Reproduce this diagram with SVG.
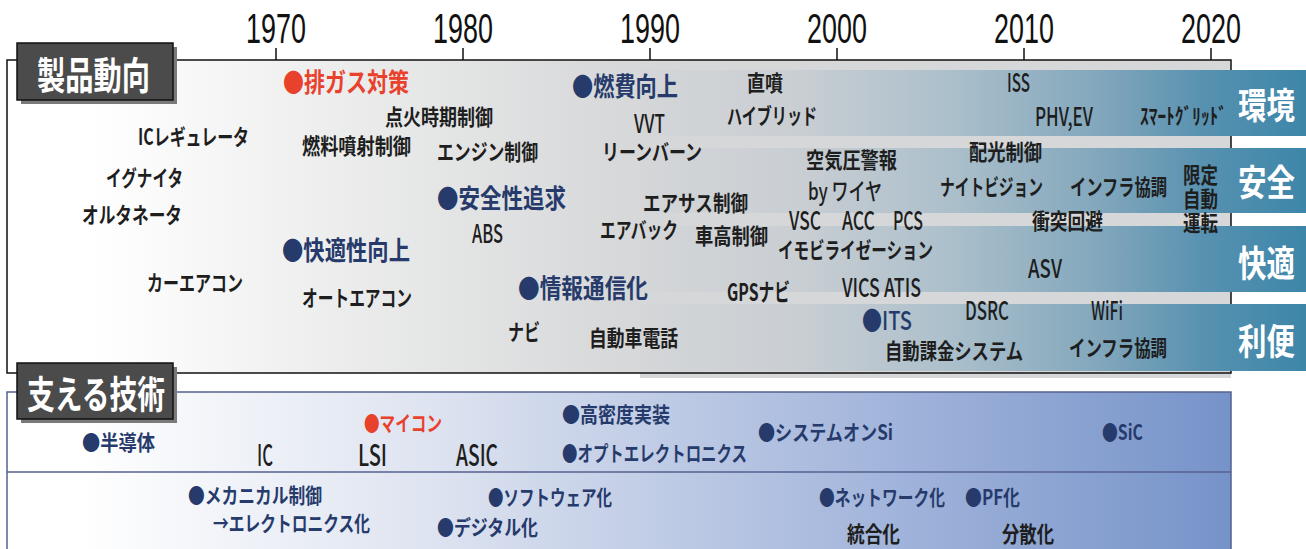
<svg xmlns="http://www.w3.org/2000/svg" width="1306" height="549" viewBox="0 0 1306 549">
<style>
text{font-family:"Noto Sans CJK JP","Liberation Sans",sans-serif;}
.t{font-size:22px;font-weight:700;fill:#1e1e1e;}
.l{font-size:26px;font-weight:500;fill:#1e1e1e;}
.h{font-size:26px;font-weight:700;fill:#263b6b;}
.r{font-size:26px;font-weight:700;fill:#e8412c;}
.n{font-size:21px;font-weight:700;fill:#263b6b;}
.nr{font-size:21px;font-weight:700;fill:#e8412c;}
.b{font-size:36px;font-weight:700;fill:#ffffff;}
.hd{font-size:38px;font-weight:700;fill:#ffffff;}
.yr{font-family:"Liberation Sans",sans-serif;font-size:43px;fill:#111;text-anchor:middle;}
.tick{stroke:#111;stroke-width:1.5;}
</style>
<defs>
<linearGradient id="gTop" x1="7" y1="0" x2="1231" y2="0" gradientUnits="userSpaceOnUse">
<stop offset="0" stop-color="#ffffff"/>
<stop offset="0.07" stop-color="#ffffff"/>
<stop offset="0.5" stop-color="#d7d8d9"/>
<stop offset="1" stop-color="#d4d6d8"/>
</linearGradient>
<linearGradient id="gBand" x1="640" y1="0" x2="1306" y2="0" gradientUnits="userSpaceOnUse">
<stop offset="0" stop-color="#d4d6d8"/>
<stop offset="0.24" stop-color="#c9ced3"/>
<stop offset="0.47" stop-color="#abbfcb"/>
<stop offset="0.69" stop-color="#82a7bc"/>
<stop offset="0.85" stop-color="#5791b0"/>
<stop offset="1" stop-color="#3d86a9"/>
</linearGradient>
<linearGradient id="gBot" x1="7" y1="0" x2="1231" y2="0" gradientUnits="userSpaceOnUse">
<stop offset="0" stop-color="#ffffff"/>
<stop offset="0.06" stop-color="#ffffff"/>
<stop offset="0.35" stop-color="#dde3f0"/>
<stop offset="0.7" stop-color="#a5b7dc"/>
<stop offset="1" stop-color="#7693c9"/>
</linearGradient>
</defs>

<g id="timeline">
<text class="yr" transform="translate(276,43) scale(0.63,1)" textLength="95" lengthAdjust="spacingAndGlyphs">1970</text>
<text class="yr" transform="translate(463,43) scale(0.63,1)" textLength="95" lengthAdjust="spacingAndGlyphs">1980</text>
<text class="yr" transform="translate(650,43) scale(0.63,1)" textLength="95" lengthAdjust="spacingAndGlyphs">1990</text>
<text class="yr" transform="translate(837,43) scale(0.63,1)" textLength="95" lengthAdjust="spacingAndGlyphs">2000</text>
<text class="yr" transform="translate(1024,43) scale(0.63,1)" textLength="95" lengthAdjust="spacingAndGlyphs">2010</text>
<text class="yr" transform="translate(1211,43) scale(0.63,1)" textLength="95" lengthAdjust="spacingAndGlyphs">2020</text>
<line class="tick" x1="276" y1="48" x2="276" y2="60"/>
<line class="tick" x1="463" y1="48" x2="463" y2="60"/>
<line class="tick" x1="650" y1="48" x2="650" y2="60"/>
<line class="tick" x1="837" y1="48" x2="837" y2="60"/>
<line class="tick" x1="1024" y1="48" x2="1024" y2="60"/>
<line class="tick" x1="1211" y1="48" x2="1211" y2="60"/>
</g>

<g id="top-panel">
<rect x="640" y="60" width="591" height="318" fill="#d5d7d8"/>
<rect x="7" y="60" width="1224" height="313" fill="url(#gTop)" stroke="#111" stroke-width="1.5"/>
<rect x="640" y="61" width="590" height="311" fill="#d5d7d8"/>
<rect x="640" y="70" width="666" height="66" fill="url(#gBand)"/>
<rect x="640" y="148" width="666" height="65" fill="url(#gBand)"/>
<rect x="640" y="226" width="666" height="66" fill="url(#gBand)"/>
<rect x="640" y="304" width="666" height="67" fill="url(#gBand)"/>
<text class="b" transform="translate(1238,119) scale(0.79,1)" textLength="72" lengthAdjust="spacingAndGlyphs">環境</text>
<text class="b" transform="translate(1238,196) scale(0.79,1)" textLength="72" lengthAdjust="spacingAndGlyphs">安全</text>
<text class="b" transform="translate(1238,277) scale(0.79,1)" textLength="72" lengthAdjust="spacingAndGlyphs">快適</text>
<text class="b" transform="translate(1238,355) scale(0.79,1)" textLength="72" lengthAdjust="spacingAndGlyphs">利便</text>
</g>

<g id="header-products">
<rect x="21" y="47" width="156" height="57" fill="#7a7a7a"/>
<rect x="17" y="43" width="156" height="57" fill="#4b4b4b" stroke="#111" stroke-width="1.5"/>
<text class="hd" transform="translate(37,89) scale(0.75,1)" textLength="150.7" lengthAdjust="spacingAndGlyphs">製品動向</text>
</g>

<g id="products">
<text class="r" transform="translate(283,92) scale(0.8,1)" textLength="157.5" lengthAdjust="spacingAndGlyphs">●排ガス対策</text>
<text class="t" transform="translate(385,125) scale(0.8,1)" textLength="135" lengthAdjust="spacingAndGlyphs">点火時期制御</text>
<text class="t" transform="translate(138,145) scale(0.8,1)" textLength="138.75" lengthAdjust="spacingAndGlyphs">ICレギュレータ</text>
<text class="t" transform="translate(302,154) scale(0.8,1)" textLength="136.25" lengthAdjust="spacingAndGlyphs">燃料噴射制御</text>
<text class="t" transform="translate(106,186) scale(0.8,1)" textLength="96.25" lengthAdjust="spacingAndGlyphs">イグナイタ</text>
<text class="t" transform="translate(82,223) scale(0.8,1)" textLength="125" lengthAdjust="spacingAndGlyphs">オルタネータ</text>
<text class="h" transform="translate(282,260) scale(0.8,1)" textLength="160" lengthAdjust="spacingAndGlyphs">●快適性向上</text>
<text class="t" transform="translate(147,291) scale(0.8,1)" textLength="120" lengthAdjust="spacingAndGlyphs">カーエアコン</text>
<text class="t" transform="translate(302,306) scale(0.8,1)" textLength="137.5" lengthAdjust="spacingAndGlyphs">オートエアコン</text>
<text class="t" transform="translate(437,160) scale(0.8,1)" textLength="126.25" lengthAdjust="spacingAndGlyphs">エンジン制御</text>
<text class="h" transform="translate(572,96) scale(0.8,1)" textLength="132.5" lengthAdjust="spacingAndGlyphs">●燃費向上</text>
<text class="t" transform="translate(747,91) scale(0.8,1)" textLength="45" lengthAdjust="spacingAndGlyphs">直噴</text>
<text class="l" transform="translate(634,133) scale(0.8,1)" textLength="38.75" lengthAdjust="spacingAndGlyphs">VVT</text>
<text class="t" transform="translate(727,124) scale(0.8,1)" textLength="112.5" lengthAdjust="spacingAndGlyphs">ハイブリッド</text>
<text class="t" transform="translate(602,160) scale(0.8,1)" textLength="125" lengthAdjust="spacingAndGlyphs">リーンバーン</text>
<text class="t" transform="translate(806,168) scale(0.8,1)" textLength="113.75" lengthAdjust="spacingAndGlyphs">空気圧警報</text>
<text class="h" transform="translate(437,208) scale(0.8,1)" textLength="161.25" lengthAdjust="spacingAndGlyphs">●安全性追求</text>
<text class="t" transform="translate(643,211) scale(0.8,1)" textLength="131.25" lengthAdjust="spacingAndGlyphs">エアサス制御</text>
<text class="l" transform="translate(808,200) scale(0.8,1)" textLength="92.5" lengthAdjust="spacingAndGlyphs" style="font-size:24px">by ワイヤ</text>
<text class="l" transform="translate(472,243) scale(0.8,1)" textLength="38.75" lengthAdjust="spacingAndGlyphs">ABS</text>
<text class="t" transform="translate(600,238) scale(0.8,1)" textLength="97.5" lengthAdjust="spacingAndGlyphs">エアバック</text>
<text class="t" transform="translate(695,244) scale(0.8,1)" textLength="91.25" lengthAdjust="spacingAndGlyphs">車高制御</text>
<text class="l" transform="translate(789,230) scale(0.8,1)" textLength="40" lengthAdjust="spacingAndGlyphs">VSC</text>
<text class="l" transform="translate(842,230) scale(0.8,1)" textLength="41.25" lengthAdjust="spacingAndGlyphs">ACC</text>
<text class="l" transform="translate(893,230) scale(0.8,1)" textLength="37.5" lengthAdjust="spacingAndGlyphs">PCS</text>
<text class="l" transform="translate(1007,92) scale(0.8,1)" textLength="28.75" lengthAdjust="spacingAndGlyphs">ISS</text>
<text class="l" transform="translate(1035,126) scale(0.8,1)" textLength="72.5" lengthAdjust="spacingAndGlyphs">PHV,EV</text>
<text class="t" transform="translate(1140,124) scale(0.8,1)" textLength="108.75" lengthAdjust="spacingAndGlyphs">ｽﾏｰﾄｸﾞﾘｯﾄﾞ</text>
<text class="t" transform="translate(969,160) scale(0.8,1)" textLength="91.25" lengthAdjust="spacingAndGlyphs">配光制御</text>
<text class="t" transform="translate(940,195) scale(0.8,1)" textLength="128.75" lengthAdjust="spacingAndGlyphs">ナイトビジョン</text>
<text class="t" transform="translate(1070,195) scale(0.8,1)" textLength="121.25" lengthAdjust="spacingAndGlyphs">インフラ協調</text>
<text class="t" transform="translate(1183,0) scale(0.8,1)"><tspan x="0" y="183" textLength="43.75" lengthAdjust="spacingAndGlyphs">限定</tspan><tspan x="0" y="207" textLength="43.75" lengthAdjust="spacingAndGlyphs">自動</tspan><tspan x="0" y="231" textLength="43.75" lengthAdjust="spacingAndGlyphs">運転</tspan></text>
<text class="t" transform="translate(1032,229) scale(0.8,1)" textLength="88.75" lengthAdjust="spacingAndGlyphs">衝突回避</text>
<text class="t" transform="translate(778,258) scale(0.8,1)" textLength="193.75" lengthAdjust="spacingAndGlyphs">イモビライゼーション</text>
<text class="h" transform="translate(518,298) scale(0.8,1)" textLength="162.5" lengthAdjust="spacingAndGlyphs">●情報通信化</text>
<text class="t" transform="translate(727,301) scale(0.8,1)" textLength="78.75" lengthAdjust="spacingAndGlyphs" style="font-size:24px">GPSナビ</text>
<text class="l" transform="translate(842,297) scale(0.8,1)" textLength="98.75" lengthAdjust="spacingAndGlyphs">VICS ATIS</text>
<text class="t" transform="translate(508,340) scale(0.8,1)" textLength="40" lengthAdjust="spacingAndGlyphs">ナビ</text>
<text class="t" transform="translate(589,346) scale(0.8,1)" textLength="111.25" lengthAdjust="spacingAndGlyphs">自動車電話</text>
<text class="l" transform="translate(1028,278) scale(0.8,1)" textLength="42.5" lengthAdjust="spacingAndGlyphs">ASV</text>
<text class="h" transform="translate(862,330) scale(0.8,1)" textLength="62.5" lengthAdjust="spacingAndGlyphs" style="font-weight:500">●ITS</text>
<text class="l" transform="translate(965,320) scale(0.8,1)" textLength="55" lengthAdjust="spacingAndGlyphs">DSRC</text>
<text class="l" transform="translate(1091,320) scale(0.8,1)" textLength="40" lengthAdjust="spacingAndGlyphs">WiFi</text>
<text class="t" transform="translate(885,359) scale(0.8,1)" textLength="172.5" lengthAdjust="spacingAndGlyphs">自動課金システム</text>
<text class="t" transform="translate(1069,356) scale(0.8,1)" textLength="122.5" lengthAdjust="spacingAndGlyphs">インフラ協調</text>
</g>

<g id="bottom-panel">
<rect x="7" y="392" width="1224" height="170" fill="url(#gBot)" stroke="#56618f" stroke-width="1.5"/>
<line x1="7" y1="472" x2="1231" y2="472" stroke="#56618f" stroke-width="1.5"/>
</g>

<g id="header-tech">
<rect x="21" y="367" width="156" height="56" fill="#7a7a7a"/>
<rect x="17" y="363" width="156" height="56" fill="#4b4b4b" stroke="#111" stroke-width="1.5"/>
<text class="hd" transform="translate(27,408) scale(0.73,1)" textLength="189" lengthAdjust="spacingAndGlyphs">支える技術</text>
</g>

<g id="technologies">
<text class="n" transform="translate(82,450) scale(0.8,1)" textLength="91.25" lengthAdjust="spacingAndGlyphs">●半導体</text>
<text class="l" transform="translate(257,466) scale(0.8,1)" textLength="20" lengthAdjust="spacingAndGlyphs" style="font-size:29px">IC</text>
<text class="l" transform="translate(358,466) scale(0.8,1)" textLength="36.25" lengthAdjust="spacingAndGlyphs" style="font-size:29px">LSI</text>
<text class="nr" transform="translate(364,431) scale(0.8,1)" textLength="97.5" lengthAdjust="spacingAndGlyphs">●マイコン</text>
<text class="n" transform="translate(188,503) scale(0.8,1)" textLength="167.5" lengthAdjust="spacingAndGlyphs">●メカニカル制御</text>
<text class="n" transform="translate(213,531) scale(0.8,1)" textLength="196.25" lengthAdjust="spacingAndGlyphs">→エレクトロニクス化</text>
<text class="l" transform="translate(456,466) scale(0.8,1)" textLength="52.5" lengthAdjust="spacingAndGlyphs" style="font-size:29px">ASIC</text>
<text class="n" transform="translate(562,422) scale(0.8,1)" textLength="135" lengthAdjust="spacingAndGlyphs">●高密度実装</text>
<text class="n" transform="translate(562,461) scale(0.8,1)" textLength="231.25" lengthAdjust="spacingAndGlyphs">●オプトエレクトロニクス</text>
<text class="n" transform="translate(758,440) scale(0.8,1)" textLength="168.75" lengthAdjust="spacingAndGlyphs">●システムオンSi</text>
<text class="n" transform="translate(488,505) scale(0.8,1)" textLength="155" lengthAdjust="spacingAndGlyphs">●ソフトウェア化</text>
<text class="n" transform="translate(437,535) scale(0.8,1)" textLength="126.25" lengthAdjust="spacingAndGlyphs">●デジタル化</text>
<text class="n" transform="translate(819,505) scale(0.8,1)" textLength="157.5" lengthAdjust="spacingAndGlyphs">●ネットワーク化</text>
<text class="t" transform="translate(847,542) scale(0.8,1)" textLength="66.25" lengthAdjust="spacingAndGlyphs">統合化</text>
<text class="n" transform="translate(1102,440) scale(0.8,1)" textLength="51.25" lengthAdjust="spacingAndGlyphs">●SiC</text>
<text class="n" transform="translate(965,505) scale(0.8,1)" textLength="68.75" lengthAdjust="spacingAndGlyphs">●PF化</text>
<text class="t" transform="translate(1002,542) scale(0.8,1)" textLength="65" lengthAdjust="spacingAndGlyphs">分散化</text>
</g>
</svg>
